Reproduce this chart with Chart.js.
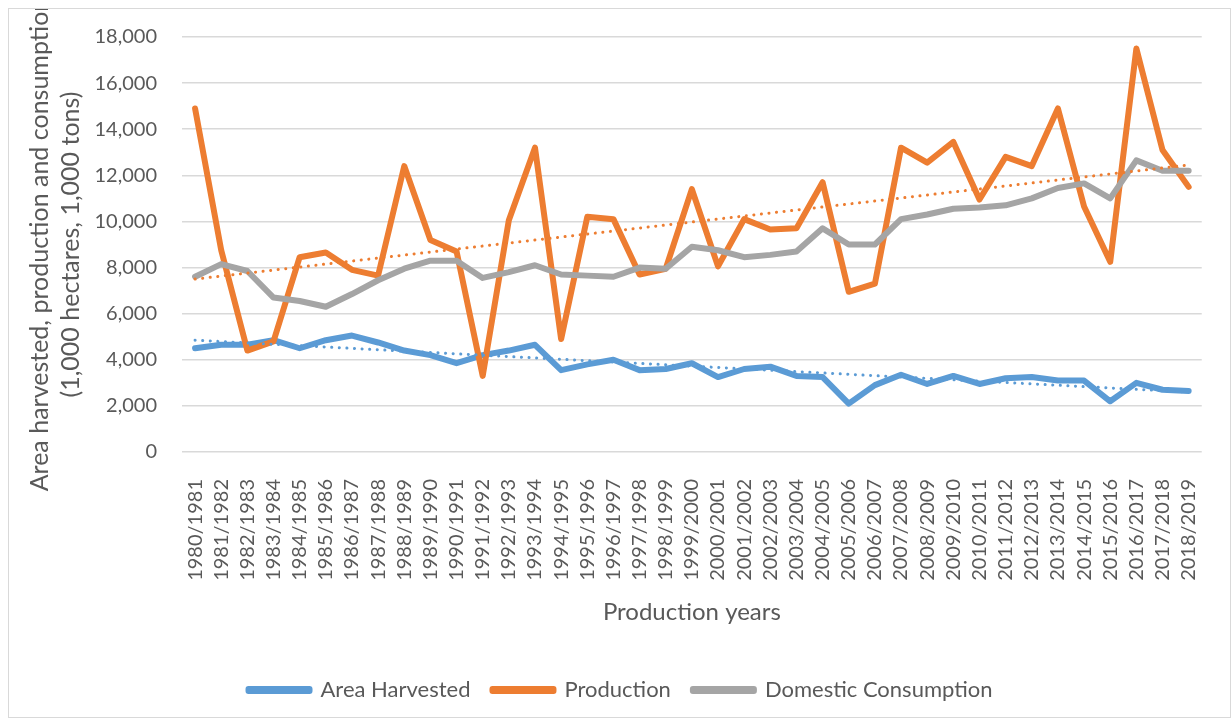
<!DOCTYPE html>
<html>
<head>
<meta charset="utf-8">
<script src="https://cdn.jsdelivr.net/npm/chart.js@4/dist/chart.umd.min.js"></script>
<style>
  html, body { margin: 0; padding: 0; background: #fff; }
  #wrap { width: 1232px; height: 719px; position: relative; }
</style>
</head>
<body>
<div id="wrap"><canvas id="chart" width="1232" height="719"></canvas></div>
<script>
const years = [
  "1980/1981", "1981/1982", "1982/1983", "1983/1984", "1984/1985", "1985/1986", "1986/1987",
  "1987/1988", "1988/1989", "1989/1990", "1990/1991", "1991/1992", "1992/1993", "1993/1994",
  "1994/1995", "1995/1996", "1996/1997", "1997/1998", "1998/1999", "1999/2000", "2000/2001",
  "2001/2002", "2002/2003", "2003/2004", "2004/2005", "2005/2006", "2006/2007", "2007/2008",
  "2008/2009", "2009/2010", "2010/2011", "2011/2012", "2012/2013", "2013/2014", "2014/2015",
  "2015/2016", "2016/2017", "2017/2018", "2018/2019"
];

// 1,000 hectares
const areaHarvested = [
  4500, 4650, 4650, 4850, 4500, 4850, 5050, 4750, 4400, 4200,
  3850, 4200, 4400, 4650, 3550, 3800, 4000, 3550, 3600, 3850,
  3250, 3600, 3700, 3300, 3250, 2100, 2900, 3350, 2950, 3300,
  2950, 3200, 3250, 3100, 3100, 2200, 3000, 2700, 2650
];

// 1,000 tons
const production = [
  14900, 8750, 4400, 4800, 8450, 8650, 7900, 7650, 12400, 9200,
  8700, 3300, 10050, 13200, 4900, 10200, 10100, 7700, 7950, 11400,
  8050, 10100, 9650, 9700, 11700, 6950, 7300, 13200, 12550, 13450,
  10950, 12800, 12400, 14900, 10650, 8250, 17500, 13100, 11500
];

const domesticConsumption = [
  7600, 8150, 7850, 6700, 6550, 6300, 6850, 7450, 7950, 8300,
  8300, 7550, 7800, 8100, 7700, 7650, 7600, 8000, 7950, 8900,
  8750, 8450, 8550, 8700, 9700, 9000, 9000, 10100, 10300, 10550,
  10600, 10700, 11000, 11450, 11650, 11000, 12650, 12200, 12200
];

// linear trend lines, end values
const areaTrendEnds = [4850, 2600];
const productionTrendEnds = [7500, 12450];

const yTicks = [0, 2000, 4000, 6000, 8000, 10000, 12000, 14000, 16000, 18000];

const trendSeries = (ends) => years.map((y, i) =>
  i === 0 ? ends[0] : (i === years.length - 1 ? ends[1] : null));

const BLUE = "#5B9BD5", ORANGE = "#ED7D31", GRAY = "#A5A5A5", TEXT = "#595959";

Chart.defaults.font.family = "Lato, 'Open Sans', sans-serif";
Chart.defaults.color = TEXT;

const seriesStyle = (color) => ({
  borderColor: color,
  backgroundColor: color,
  borderWidth: 6,
  pointRadius: 0,
  tension: 0,
  borderCapStyle: "round",
  borderJoinStyle: "round",
});

const trendStyle = (color) => ({
  borderColor: color,
  backgroundColor: color,
  borderWidth: 3,
  borderDash: [0.1, 7.5],
  borderCapStyle: "round",
  pointRadius: 0,
  spanGaps: true,
  order: 0,
});

// light frame like the chart area border, clipping the long y title
const framePlugin = {
  id: "frame",
  afterLayout(chart) {
    // legend sits a little right of centre in the original
    chart.legend.left += 14;
    chart.legend.right += 14;
  },
  beforeDraw(chart) {
    const ctx = chart.ctx;
    ctx.save();
    ctx.fillStyle = "#fff";
    ctx.fillRect(0, 0, chart.width, chart.height);
    ctx.strokeStyle = "#d9d9d9";
    ctx.lineWidth = 1;
    ctx.strokeRect(8.5, 8.5, 1222, 709);
    ctx.beginPath();
    ctx.rect(9, 9, 1221, 708);
    ctx.clip();
  },
  afterDraw(chart) {
    chart.ctx.restore();
  },
};

new Chart(document.getElementById("chart"), {
  type: "line",
  data: {
    labels: years,
    datasets: [
      { label: "Area Harvested", data: areaHarvested, ...seriesStyle(BLUE), order: 3 },
      { label: "Production", data: production, ...seriesStyle(ORANGE), order: 2 },
      { label: "Domestic Consumption", data: domesticConsumption, ...seriesStyle(GRAY), order: 1 },
      { label: "Linear (Area Harvested)", data: trendSeries(areaTrendEnds), ...trendStyle(BLUE) },
      { label: "Linear (Production)", data: trendSeries(productionTrendEnds), ...trendStyle(ORANGE) },
    ],
  },
  options: {
    responsive: false,
    animation: false,
    layout: { padding: { top: 37, left: 8, right: 27, bottom: 8 } },
    plugins: {
      tooltip: { enabled: false },
      legend: {
        position: "bottom",
        labels: {
          boxWidth: 61,
          boxHeight: 2,
          padding: 22,
          font: { size: 22 },
          color: TEXT,
          filter: (item) => item.datasetIndex < 3,
          sort: (a, b) => a.datasetIndex - b.datasetIndex,
        },
      },
    },
    scales: {
      x: {
        offset: true,
        afterFit: (scale) => { scale.height = 205; },
        grid: { display: false },
        border: { display: false },
        ticks: {
          autoSkip: false,
          minRotation: 90,
          maxRotation: 90,
          padding: 19,
          font: { size: 20 },
          color: TEXT,
        },
        title: {
          display: true,
          text: "Production years",
          font: { size: 24 },
          color: TEXT,
          padding: { top: 0, bottom: 30 },
        },
      },
      y: {
        min: 0,
        max: 18000,
        afterBuildTicks: (scale) => { scale.ticks = yTicks.map((v) => ({ value: v })); },
        afterFit: (scale) => { scale.width = 174; },
        grid: { color: "#d9d9d9", lineWidth: 1.5, drawTicks: false },
        border: { display: false },
        ticks: {
          padding: 25,
          font: { size: 20 },
          color: TEXT,
          callback: (v) => v.toLocaleString("en-US"),
        },
        title: {
          display: true,
          text: ["Area harvested, production and consumption", "(1,000 hectares, 1,000 tons)"],
          font: { size: 25, lineHeight: 1.24 },
          color: TEXT,
          padding: { top: 16, bottom: 0 },
        },
      },
    },
  },
  plugins: [framePlugin],
});
</script>
</body>
</html>
